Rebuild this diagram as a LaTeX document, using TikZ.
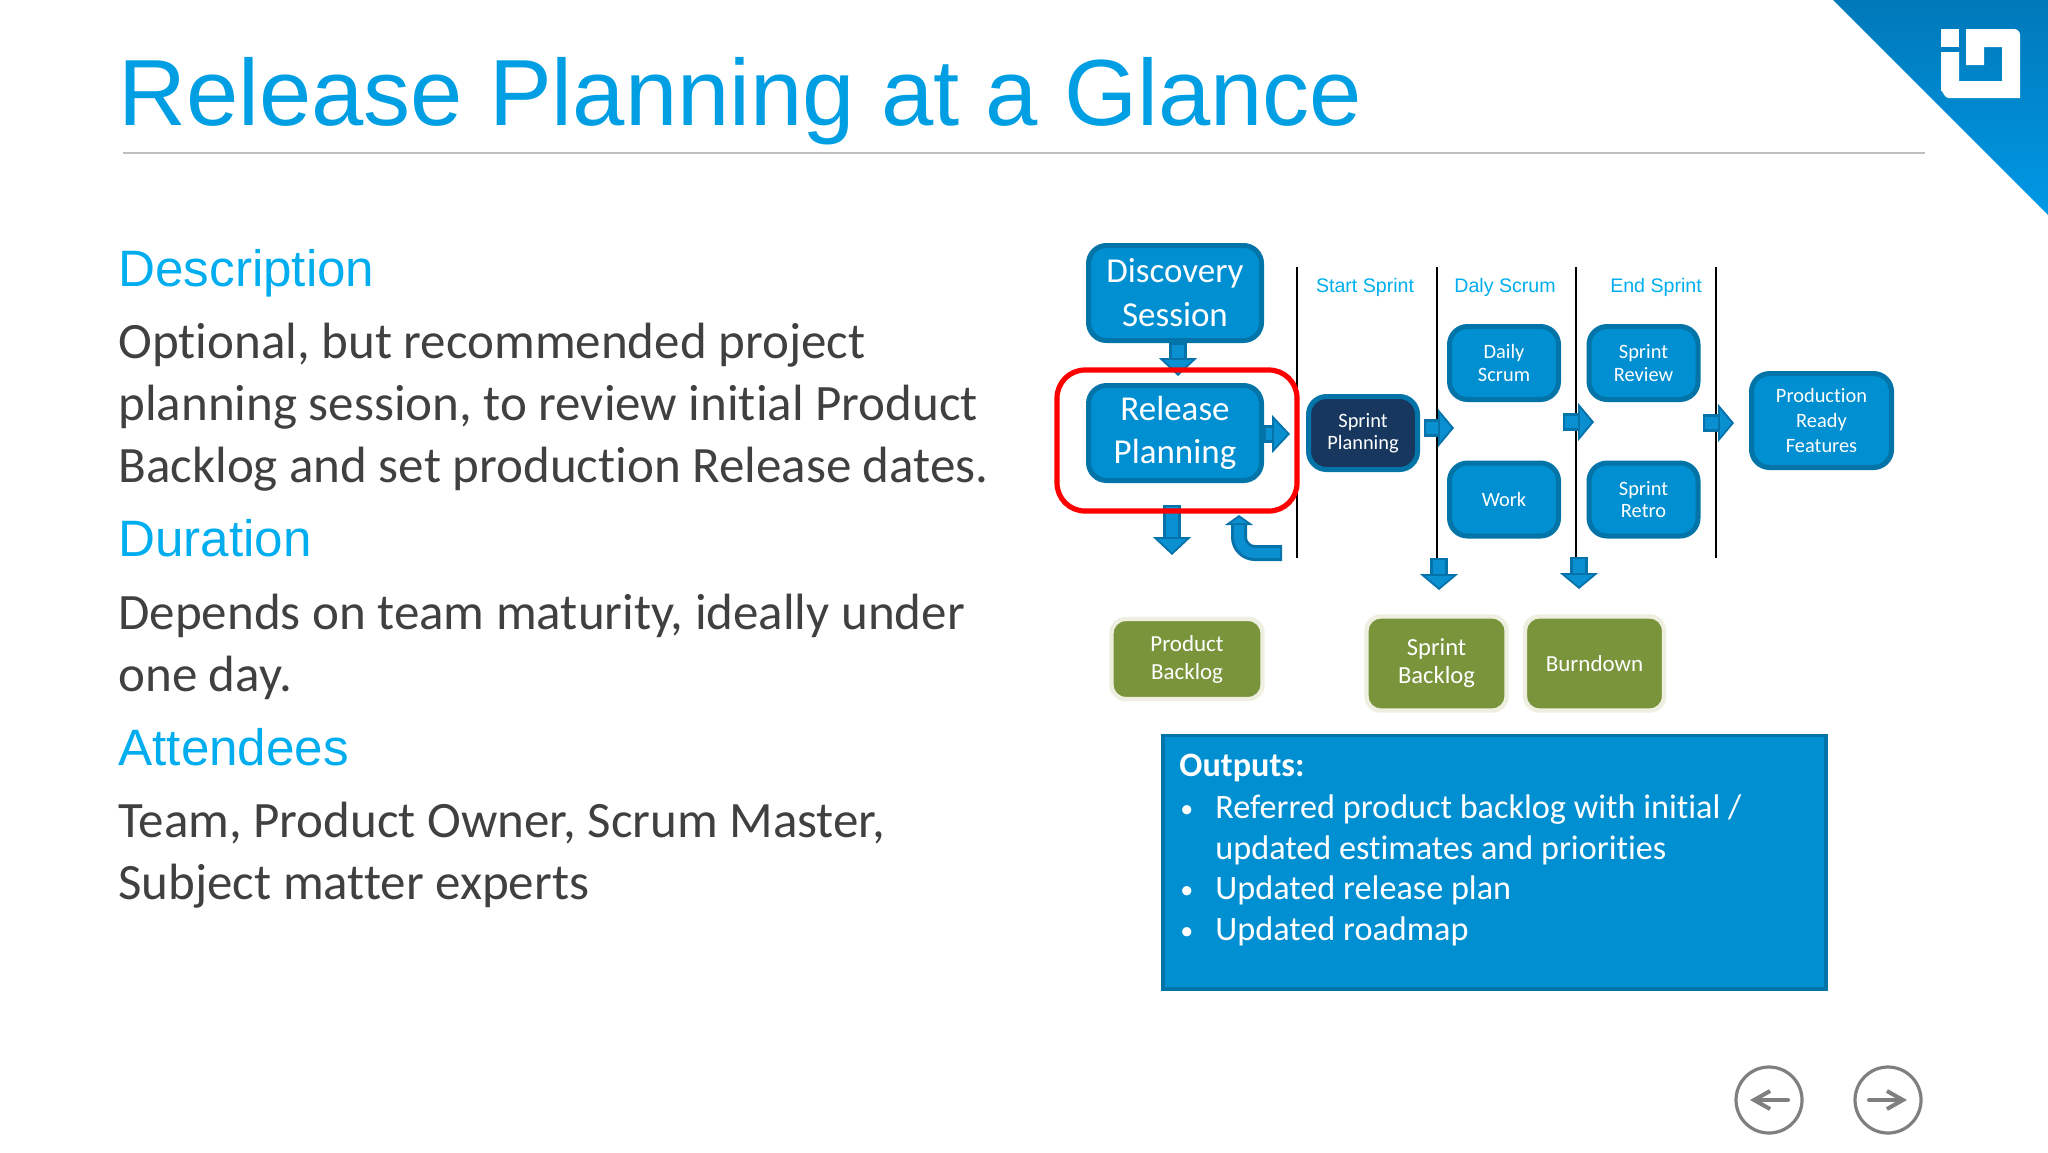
\documentclass[tikz,border=0pt]{standalone}
\usepackage{fontspec}
\setmainfont[Ligatures=NoCommon]{Carlito}
\newfontfamily\arialf{Liberation Sans}
\newfontfamily\calib[Ligatures=NoCommon]{Carlito}
\usetikzlibrary{arrows.meta,shadings}
\definecolor{hblue}{HTML}{00AEEF}
\definecolor{tblue}{HTML}{009FE3}
\definecolor{bodyt}{HTML}{404040}
\definecolor{boxf}{HTML}{008FD1}
\definecolor{boxd}{HTML}{0274A8}
\definecolor{navy}{HTML}{17375E}
\definecolor{olive}{HTML}{7A943C}
\definecolor{halo}{HTML}{EEEFE0}
\definecolor{arrl}{HTML}{0A8FD0}
\definecolor{arrd}{HTML}{0672AA}
\definecolor{navg}{HTML}{7F7F7F}
\definecolor{cornt}{HTML}{0079B9}
\definecolor{cornb}{HTML}{0098E6}
\tikzset{
 x=0.5pt,y=-0.5pt,
 flow/.style={draw=boxd,fill=boxf,line width=2.5pt,rounded corners=9pt,inner sep=0pt,align=center,text=white,font=\calib\fontsize{10.2}{11.2}\selectfont},
 bigflow/.style={flow,font=\calib\fontsize{17.5}{21.5}\selectfont},
 lane/.style={draw=black,line width=0.7pt},
 lanehead/.style={text=hblue,font=\arialf\fontsize{9.8}{12}\selectfont,inner sep=0pt},
 arts/.style={draw=halo,fill=olive,line width=2.2pt,rounded corners=7pt,inner sep=0pt,align=center,text=white,font=\calib\fontsize{11.5}{14}\selectfont},
 barrow/.style={draw=arrd,line width=9pt,-{Triangle[length=#1,width=19pt,fill=arrl,line width=0.9pt]},
   postaction={draw=arrl,line width=6pt,arrows=-,shorten >=#1,shorten <=1pt}},
 barrow/.default=9pt,
 head/.style={text=hblue,font=\arialf\fontsize{25.6}{28}\selectfont,anchor=base west,inner sep=0pt},
 bodytxt/.style={text=bodyt,font=\fontsize{25.5}{30.9}\selectfont,anchor=north west,inner sep=0pt,align=left},
 outln/.style={text=white,font=\fontsize{17.1}{20}\selectfont,anchor=base west,inner sep=0pt},
 outbul/.style={outln,font=\fontsize{13}{20}\selectfont},
 navc/.style={circle,draw=navg,line width=1.6pt,minimum size=33pt,inner sep=0pt},
 nava/.style={draw=navg,line width=2pt,line cap=round,-{Straight Barb[length=8pt,width=9pt]}},
}
\begin{document}
\begin{tikzpicture}
\useasboundingbox (0,0) rectangle (2048,1152);
\fill[white] (0,0) rectangle (2048,1152);
% corner
\shade[top color=cornt,bottom color=cornb,shading angle=0] (1833,0) -- (2048,0) -- (2048,215) -- cycle;
\fill[white] (1941,29) rectangle (1959,47);
\fill[white] (1966,29) -- (2014,29) to[out=0,in=90] (2020,35) -- (2020,98) -- (1948,98) to[out=180,in=90] (1941,91) -- (1941,52) -- (1959,52) -- (1959,81) -- (2002,81) -- (2002,47) -- (1966,47) -- (1966,65) -- (1984,65) -- (1984,47) -- (1966,47) -- cycle;
% title
\node[text=tblue,font=\arialf\fontsize{47}{50}\selectfont,anchor=base west,inner sep=0pt] (title) at (118,125) {Release Planning at a Glance};
\draw[gray!50,line width=0.7pt] (123,153) -- (1925,153);
% left column
\node[head] (h1) at (118,286) {Description};
\node[bodytxt] (b1) at (118,323) {Optional, but recommended project\\planning session, to review initial Product\\Backlog and set production Release dates.};
\node[head] (h2) at (118,556) {Duration};
\node[bodytxt] (b2) at (118,594) {Depends on team maturity, ideally under\\one day.};
\node[head] (h3) at (118,765) {Attendees};
\node[bodytxt] (b3) at (118,802) {Team, Product Owner, Scrum Master,\\Subject matter experts};
% lanes
\coordinate (l1a) at (1297,267); \coordinate (l1b) at (1297,558);
\coordinate (l2a) at (1437,267); \coordinate (l2b) at (1437,575);
\coordinate (l3a) at (1576,267); \coordinate (l3b) at (1576,575);
\coordinate (l4a) at (1716,267); \coordinate (l4b) at (1716,558);
\draw[lane] (l1a) -- (l1b);
\draw[lane] (l2a) -- (l2b);
\draw[lane] (l3a) -- (l3b);
\draw[lane] (l4a) -- (l4b);
\node[lanehead] (ls) at (1365,287) {Start Sprint};
\node[lanehead] (ld) at (1505,287) {Daly Scrum};
\node[lanehead] (le) at (1656,287) {End Sprint};
% flow boxes
\node[bigflow,minimum width=86.5pt,minimum height=47.5pt] (disc) at (1175,293) {\raisebox{0.5pt}{Discovery}\\Session};
\node[bigflow,minimum width=86.5pt,minimum height=47.5pt] (rel) at (1175,433) {Release\\Planning};
\node[flow,fill=navy,minimum width=54.5pt,minimum height=36.5pt] (sp) at (1363,433) {Sprint\\Planning};
\node[flow,minimum width=54.5pt,minimum height=36.5pt] (ds) at (1504,363) {Daily\\Scrum};
\node[flow,minimum width=54.5pt,minimum height=36.5pt] (wk) at (1504,499.5) {Work};
\node[flow,minimum width=54.5pt,minimum height=36.5pt] (sr) at (1643.5,363) {Sprint\\Review};
\node[flow,minimum width=54.5pt,minimum height=36.5pt] (rt) at (1643.5,499.5) {Sprint\\Retro};
\node[flow,minimum width=70pt,minimum height=47pt,font=\calib\fontsize{10.2}{12.4}\selectfont] (pr) at (1821.5,420.5) {Production\\Ready\\Features};
% arrows
\draw[barrow] ([xshift=1.5pt]disc.south) -- ([xshift=1.5pt,yshift=3.5pt]rel.north);
\draw[barrow] ([yshift=-0.5pt]rel.east) -- ([xshift=13pt,yshift=-0.5pt]rel.east);
\coordinate (a3s) at (1424,428); \coordinate (a3e) at (1454,428);
\draw[barrow=8pt] (a3s) -- (a3e);
\coordinate (a4s) at (1563,422); \coordinate (a4e) at (1594,422);
\draw[barrow=8pt] (a4s) -- (a4e);
\coordinate (a5s) at (1703,423); \coordinate (a5e) at (1734,423);
\draw[barrow=8pt] (a5s) -- (a5e);
\coordinate (a6s) at (1172,505); \coordinate (a6e) at (1172,555);
\draw[barrow] (a6s) -- (a6e);
\coordinate (a7s) at (1439,558); \coordinate (a7e) at (1439,590);
\draw[barrow=8pt] (a7s) -- (a7e);
\coordinate (a8s) at (1579,557); \coordinate (a8e) at (1579,589);
\draw[barrow=8pt] (a8s) -- (a8e);
\coordinate (a9s) at (1282,553); \coordinate (a9c) at (1239,553); \coordinate (a9e) at (1239,515);
\draw[draw=arrd,line width=8pt,rounded corners=8pt,-{Triangle[length=5pt,width=14pt,fill=arrl,line width=0.9pt]}] (a9s) -- (a9c) -- (a9e);
\draw[draw=arrl,line width=5pt,rounded corners=8pt,shorten <=1pt,shorten >=5pt] (a9s) -- (a9c) -- (a9e);
% red highlight
\draw[draw=red,line width=2.6pt,rounded corners=14pt] (1057,370) rectangle (1297,511);
% artefacts
\node[arts,minimum width=75.5pt,minimum height=40pt] (pb) at (1187,659) {Product\\Backlog};
\node[arts,minimum width=70pt,minimum height=47pt,font=\calib\fontsize{12.3}{14}\selectfont] (sb) at (1436.5,663.5) {Sprint\\Backlog};
\node[arts,minimum width=69.5pt,minimum height=47pt] (bd) at (1594.5,663.5) {Burndown};
% outputs
\draw[draw=boxd,fill=boxf,line width=1.6pt] (1163,735.5) rectangle (1826,989);
\node[outln,font=\bfseries\fontsize{17.1}{20}\selectfont] (o0) at (1179,776) {Outputs:};
\node[outbul] (o1b) at (1180,817) {•};
\node[outln] (o1) at (1215,818) {Referred product backlog with initial /};
\node[outln] (o2) at (1215,859) {updated estimates and priorities};
\node[outbul] (o3b) at (1180,898) {•};
\node[outln] (o3) at (1215,899) {Updated release plan};
\node[outbul] (o4b) at (1180,939) {•};
\node[outln] (o4) at (1215,940) {Updated roadmap};
% nav
\node[navc] (nl) at (1769,1100) {};
\node[navc] (nr) at (1888,1100) {};
\coordinate (nla) at (1788,1100); \coordinate (nlb) at (1750,1100);
\coordinate (nra) at (1869,1100); \coordinate (nrb) at (1907,1100);
\draw[nava] (nla) -- (nlb);
\draw[nava] (nra) -- (nrb);
\end{tikzpicture}
\end{document}
